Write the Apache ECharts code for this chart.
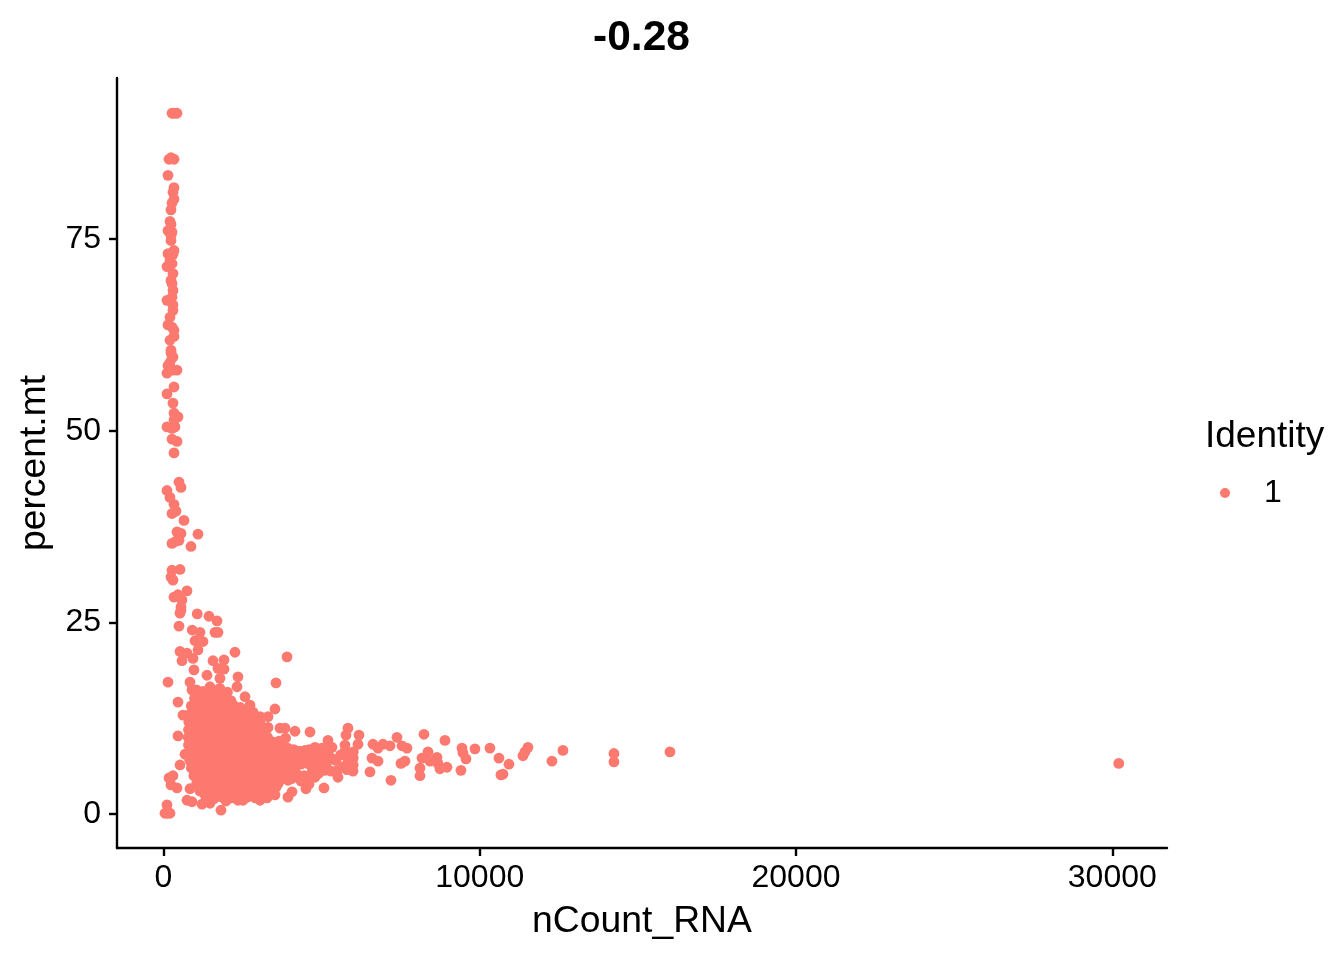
<!DOCTYPE html>
<html><head><meta charset="utf-8">
<style>html,body{margin:0;padding:0;background:#fff}#c{width:1344px;height:960px}</style>
<script src="https://cdn.jsdelivr.net/npm/echarts@6/dist/echarts.min.js"></script>
</head><body><div id="c"></div>
<script>
var xTicks = [0, 10000, 20000, 30000];
var yTicks = [0, 25, 50, 75];
var columnPoints = [[269,91.4],[345,91.4],[427,91.4],[174,85.4],[237,85.6],[332,85.4],[142,83.3],[332,81.7],[300,81.1],[332,80.2],[269,79.7],[237,78.8],[205,77.3],[237,76.9],[142,76.1],[269,75.9],[237,75.5],[237,74.8],[332,73.5],[142,73.1],[300,73],[205,72.2],[111,71.4],[269,71.8],[300,70.5],[237,69.6],[269,69.2],[300,68.3],[269,67.4],[111,67],[300,66.4],[300,65.7],[205,64.8],[142,63.8],[269,63.5],[332,63.1],[332,62.3],[205,61.8],[237,60.5],[269,59.6],[237,60.2],[300,59.6],[205,58.9],[142,58.5],[427,57.9],[111,57.5],[300,57.9],[332,55.7],[111,54.8],[300,53.6],[332,52.3],[458,51.8],[332,51.4],[111,50.5],[269,50.3],[364,50.5],[269,48.9],[427,48.6],[332,47.1],[490,43.3],[553,42.6],[111,42.2],[205,41.3],[332,40.4],[269,39.2],[395,39.5],[648,38.3],[427,36.8],[553,36.6],[1091,36.5],[490,35.7],[269,35.3],[395,35.6],[869,34.9],[522,31.9],[269,31.8],[237,30.9],[300,30.5],[743,29.1],[332,28.3],[458,28.6],[585,27.9],[553,27],[553,26.6]];
var edgePoints = [[522,26.2],[1067,26.1],[1438,25.8],[1691,25.2],[490,24.5],[908,24],[1154,23.7],[1628,23.7],[1723,23.7],[996,22.6],[1249,22.5],[1091,21.4],[522,21.2],[743,21],[585,20],[933,20.3],[2260,21.1],[3905,20.5],[1565,20],[1913,20.1],[964,18.8],[1723,19],[1913,18.9],[1375,18.1],[1786,17.7],[2355,17.9],[142,17.2],[838,17.2],[3557,17.1],[2324,16.6],[901,16.2],[1470,16.6],[2577,15.3],[458,14.6],[2735,14.2],[2830,13.3],[3525,13.7],[617,12.9],[3304,12.7],[3051,12.7],[3683,11.2],[3841,11.2],[4158,10.8],[4632,10.7],[3304,11.3],[458,10.2],[680,7.8],[522,6.4],[300,5],[174,4.7],[237,3.8],[427,3.4],[838,3.3],[743,1.8],[901,1.6],[1217,1.3],[1470,1.4],[1976,1.7],[1818,0.5],[111,1.2],[47,0.1],[205,0.1],[130,0.1],[2355,1.8],[2514,1.8],[3051,1.8],[3272,2.1],[3525,2.5],[4063,2.9],[3936,2.2],[3936,4.4]];
var corePoints = [
[1040,16.2],[1250,16],[1520,15.8],[1780,16.4],[2020,15.9],
[980,15.1],[1180,14.9],[1420,15.2],[1660,15],[1890,15.3],[2130,14.8],
[880,14.1],[1100,14],[1320,14.2],[1540,13.9],[1770,14.1],[1990,14],[2210,14.2],[2430,13.9],
[820,13],[1010,13.1],[1230,12.9],[1450,13.1],[1670,13],[1880,12.9],[2100,13.1],[2320,13],[2540,12.9],[2750,13],
[800,12],[980,11.9],[1190,12.1],[1400,12],[1620,12.1],[1830,11.9],[2050,12],[2270,12.1],[2490,11.9],[2700,12],[2920,12.1],[3050,11.9],
[790,11],[1000,11.1],[1210,10.9],[1430,11],[1650,11.1],[1860,10.9],[2080,11],[2300,11.1],[2520,10.9],[2730,11],[2950,11.1],[3100,10.9],
[780,10],[970,9.9],[1180,10.1],[1400,10],[1620,9.9],[1830,10.1],[2050,10],[2270,9.9],[2490,10.1],[2700,10],[2920,9.9],[3130,10.1],[3290,10],
[790,9],[1000,9.1],[1210,8.9],[1430,9],[1650,9.1],[1860,8.9],[2080,9],[2300,9.1],[2520,8.9],[2730,9],[2950,9.1],[3170,8.9],[3550,9.2],[3700,9],[3860,9.9],
[800,8],[1000,7.9],[1210,8.1],[1430,8],[1650,7.9],[1860,8.1],[2080,8],[2300,7.9],[2520,8.1],[2730,8],[2950,7.9],[3170,8.1],[3390,8],[3600,7.9],[3820,8.1],[4000,8],
[830,7],[1030,7.1],[1240,6.9],[1460,7],[1680,7.1],[1890,6.9],[2110,7],[2330,7.1],[2550,6.9],[2760,7],[2980,7.1],[3200,6.9],[3420,7],[3630,7.1],[3850,6.9],[4070,7],[4290,7.2],
[880,6],[1080,5.9],[1290,6.1],[1510,6],[1730,5.9],[1940,6.1],[2160,6],[2380,5.9],[2600,6.1],[2810,6],[3030,5.9],[3250,6.1],[3470,6],[3680,5.9],[3900,6.1],[4120,6],
[960,5],[1150,5.1],[1360,4.9],[1580,5],[1800,5.1],[2010,4.9],[2230,5],[2450,5.1],[2670,4.9],[2880,5],[3100,5.1],[3320,4.9],[3540,5],[3750,5.1],[3970,5.3],
[1050,4],[1240,3.9],[1450,4.1],[1670,4],[1890,3.9],[2100,4.1],[2320,4],[2540,3.9],[2760,4.1],[2970,4],[3190,3.9],[3410,4.1],[3630,4],
[1150,3],[1350,3.1],[1560,2.9],[1780,3],[2000,3.1],[2210,2.9],[2430,3],[2650,3.1],[2870,2.9],[3080,3],[3300,3.1],[3490,3],
[1350,2.1],[1600,2],[1850,2.2],[2150,2.1],[2650,2.2],[2900,2.1],[3100,2.3]
];
var corePointsDense = [
[1140,15.5],[1390,15.6],[1640,15.5],[1880,15.7],
[1080,14.6],[1300,14.5],[1540,14.6],[1780,14.5],[2010,14.6],
[950,13.6],[1210,13.5],[1430,13.6],[1650,13.5],[1880,13.6],[2100,13.5],[2320,13.6],[2540,13.5],
[900,12.5],[1120,12.6],[1340,12.5],[1560,12.5],[1780,12.6],[1990,12.5],[2210,12.6],[2430,12.5],[2650,12.5],[2860,12.6],
[890,11.5],[1100,11.5],[1320,11.6],[1540,11.5],[1750,11.5],[1970,11.6],[2190,11.5],[2410,11.5],[2620,11.6],[2840,11.5],[3000,11.5],
[880,10.5],[1090,10.5],[1310,10.6],[1530,10.5],[1740,10.5],[1960,10.6],[2180,10.5],[2400,10.5],[2610,10.6],[2830,10.5],[3050,10.5],[3220,10.5],
[880,9.5],[1090,9.5],[1310,9.6],[1530,9.5],[1740,9.5],[1960,9.6],[2180,9.5],[2400,9.5],[2610,9.6],[2830,9.5],[3050,9.5],[3270,9.6],[3450,9.4],[3650,9.5],
[890,8.5],[1100,8.5],[1320,8.6],[1540,8.5],[1750,8.5],[1970,8.6],[2190,8.5],[2410,8.5],[2620,8.6],[2840,8.5],[3060,8.5],[3280,8.6],[3500,8.5],[3710,8.5],[3930,8.6],[4120,8.4],
[920,7.5],[1120,7.5],[1340,7.6],[1560,7.5],[1770,7.5],[1990,7.6],[2210,7.5],[2430,7.5],[2640,7.6],[2860,7.5],[3080,7.5],[3300,7.6],[3520,7.5],[3730,7.5],[3950,7.6],[4170,7.5],
[960,6.5],[1170,6.5],[1390,6.6],[1610,6.5],[1820,6.5],[2040,6.6],[2260,6.5],[2480,6.5],[2690,6.6],[2910,6.5],[3130,6.5],[3350,6.6],[3570,6.5],[3780,6.5],[4000,6.6],[4200,6.4],
[1020,5.5],[1220,5.5],[1440,5.6],[1660,5.5],[1870,5.5],[2090,5.6],[2310,5.5],[2530,5.5],[2740,5.6],[2960,5.5],[3180,5.5],[3400,5.6],[3620,5.5],[3830,5.5],[4030,5.6],
[1110,4.5],[1310,4.5],[1530,4.6],[1750,4.5],[1960,4.5],[2180,4.6],[2400,4.5],[2620,4.5],[2830,4.6],[3050,4.5],[3270,4.5],[3490,4.6],[3700,4.5],
[1210,3.5],[1420,3.5],[1640,3.6],[1860,3.5],[2070,3.5],[2290,3.6],[2510,3.5],[2730,3.5],[2940,3.6],[3160,3.5],[3380,3.5],[3560,3.5],
[1300,2.6],[1500,2.5],[1720,2.6],[1950,2.5],[2250,2.5],[2450,2.4],[2750,2.6],[3000,2.5],[3250,2.7]
];
var tailPoints = [[5833,11.2],[5770,10.3],[6181,10.3],[7382,10],[5201,9.6],[6150,9.1],[6624,9.1],[6782,8.6],[6940,9.1],[7161,8.9],[7540,8.9],[7698,8.6],[5327,8.7],[5738,9],[4790,8.7],[5011,8.6],[4474,8.3],[5802,7.4],[6592,7.3],[6782,6.9],[6529,5.5],[7635,6.9],[7509,6.6],[7193,4.4],[5991,5.6],[5517,4.8],[5074,3.4],[4790,4.8],[4505,3.3],
[4300,8.2],[4450,7.5],[4600,8.4],[4750,7.6],[4900,8.2],[5050,7.2],[5200,8.1],[4350,6.5],[4550,6.6],[4700,6],[4850,6.9],[5000,6.2],[5150,6.6],[5300,7.3],[5450,7],[5600,7.7],[5750,8.3],[5900,7.9],[6000,7.3],[5850,6.6],[5700,6.2],[5500,5.7],[5300,5.6],[5100,5.7],[4900,5.3],[4650,5.1],[4450,5],[4200,5.3],[4050,4.6],[4350,4.3],[4600,3.9],[5900,6.8],[6000,6.4],[5800,5.8],[6000,8.1],
[8236,10.4],[8900,9.6],[9437,8.6],[9848,8.5],[10322,8.6],[10607,7.3],[11524,8.7],[11429,8.1],[11366,7.6],[12630,8.3],[12282,6.9],[14243,7.9],[14243,6.8],[16014,8.1],[10923,6.5],[10733,5.2],[10670,5.1],[9469,8],[9564,7.2],[9405,5.7],[8963,6.1],[8742,5.9],[8647,7.4],[8679,6.6],[8363,8.1],[8173,7.3],[8426,6.9],[8110,6],[8110,5],[30205,6.6]];
var allPoints = columnPoints.concat(edgePoints, corePoints, corePointsDense, tailPoints);
var FONT = '"Liberation Sans", Arial, sans-serif';
var RED = '#FC7970';
var chart = echarts.init(document.getElementById('c'), null, {renderer:'canvas'});
function axis(name, min, max, ticks, gap, margin) {
  return {
    type:'value', name:name, nameLocation:'middle', nameGap:gap, min:min, max:max,
    nameTextStyle:{color:'#000', fontSize:37.3, fontFamily:FONT},
    splitLine:{show:false},
    axisLine:{show:true, onZero:false, lineStyle:{color:'#000', width:2.4}},
    axisTick:{show:true, length:8, customValues:ticks, lineStyle:{color:'#000', width:2.4}},
    axisLabel:{show:true, customValues:ticks, color:'#000', fontSize:32, fontFamily:FONT, margin:margin,
      formatter:function(v){return String(v);}}
  };
}
chart.setOption({
  animation:false,
  backgroundColor:'#fff',
  title:[
    {text:'-0.28', left:641.5, top:38, textAlign:'center', textVerticalAlign:'middle', padding:0,
     textStyle:{color:'#000', fontSize:42.5, fontWeight:'bold', fontFamily:FONT}},
    {text:'Identity', left:1205, top:437, textVerticalAlign:'middle', padding:0,
     textStyle:{color:'#000', fontSize:37, fontWeight:'normal', fontFamily:FONT}}
  ],
  legend:{show:true, left:1220, top:477, padding:0, icon:'circle', itemWidth:10, itemHeight:10,
    data:[{name:'1', icon:'circle'}], selectedMode:false,
    textStyle:{color:'#000', fontSize:32, fontFamily:FONT, padding:[0,0,0,29]}},
  grid:{left:117, right:177, top:78, bottom:112},
  xAxis:axis('nCount_RNA', -1470, 31730, xTicks, 55, 14),
  yAxis:axis('percent.mt', -4.43, 96, yTicks, 64, 16),
  series:[{type:'scatter', name:'1', data:allPoints, symbol:'circle', symbolSize:10.8,
    itemStyle:{color:RED, opacity:1}, large:false, silent:true, emphasis:{disabled:true}}]
});
</script></body></html>
